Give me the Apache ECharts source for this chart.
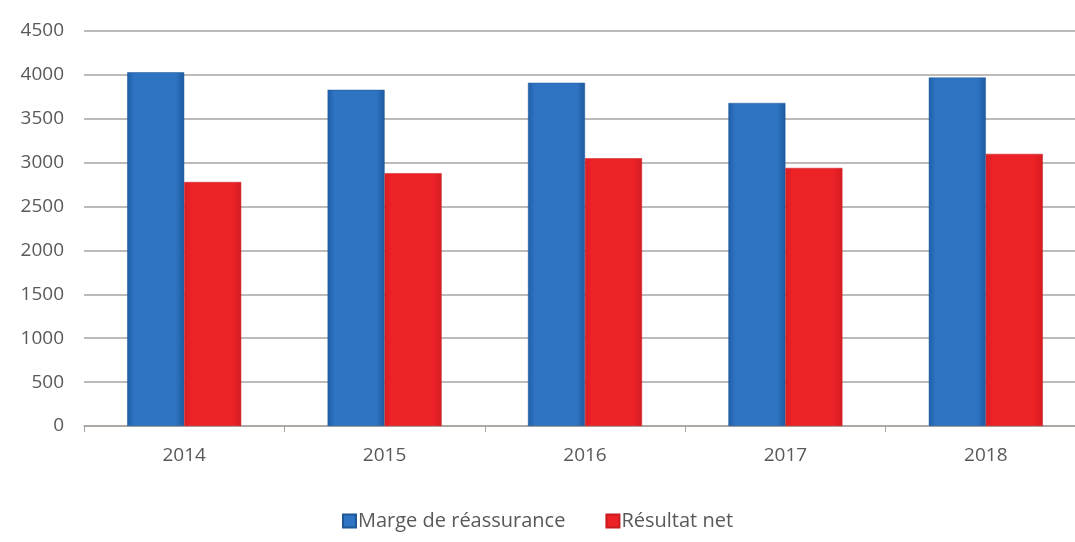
<!DOCTYPE html>
<html><head><meta charset="utf-8">
<script src="https://cdn.jsdelivr.net/npm/echarts@6/dist/echarts.min.js"></script>
<style>html,body{margin:0;padding:0;background:#fff}#c{width:1075px;height:542px}</style>
</head><body><div id="c"></div>
<script>
const categories = ['2014','2015','2016','2017','2018'];
const marge = [4030, 3830, 3910, 3680, 3970];
const resultat = [2780, 2880, 3050, 2940, 3100];
const yTicks = {min: 0, max: 4500, interval: 500};

const chart = echarts.init(document.getElementById('c'));
const font = '"Open Sans", "Noto Sans", sans-serif';
function grad(c1, c2, c3) {
  return new echarts.graphic.LinearGradient(0, 0, 1, 0, [
    {offset: 0, color: c1}, {offset: 0.12, color: c2}, {offset: 0.85, color: c2}, {offset: 1, color: c3}
  ]);
}
chart.setOption({
  animation: false,
  backgroundColor: '#fff',
  grid: {left: 84, top: 31, width: 1002, height: 395, containLabel: false, outerBoundsMode: 'none'},
  legend: {
    bottom: 6, left: 'center', itemWidth: 13, itemHeight: 13, itemGap: 40,
    icon: 'rect',
    textStyle: {fontFamily: font, fontSize: 20, color: '#595959', padding: [0,0,0,-3]},
    data: ['Marge de réassurance', 'Résultat net']
  },
  xAxis: {
    type: 'category', data: categories,
    axisLine: {lineStyle: {color: '#a9a39f', width: 1.5}},
    axisTick: {show: true, length: 6, lineStyle: {color: '#a9a39f'}},
    axisLabel: {fontFamily: font, fontSize: 19, color: '#595959', margin: 20}
  },
  yAxis: {
    type: 'value', min: yTicks.min, max: yTicks.max, interval: yTicks.interval,
    axisLine: {show: false}, axisTick: {show: false},
    splitLine: {lineStyle: {color: '#a9a39f', width: 1.5}},
    axisLabel: {fontFamily: font, fontSize: 19, color: '#595959', margin: 20, formatter: v => String(v)}
  },
  series: [
    {name: 'Marge de réassurance', type: 'bar', data: marge, barWidth: 57, barGap: '0%',
     itemStyle: {color: grad('#1d5ea8', '#2f74c2', '#1c5aa0'), borderColor: '#1e5796', borderWidth: 0.5}},
    {name: 'Résultat net', type: 'bar', data: resultat, barWidth: 57,
     itemStyle: {color: grad('#d81e22', '#ec2227', '#d41d21'), borderColor: '#c81c20', borderWidth: 0.5}}
  ]
});
</script></body></html>
